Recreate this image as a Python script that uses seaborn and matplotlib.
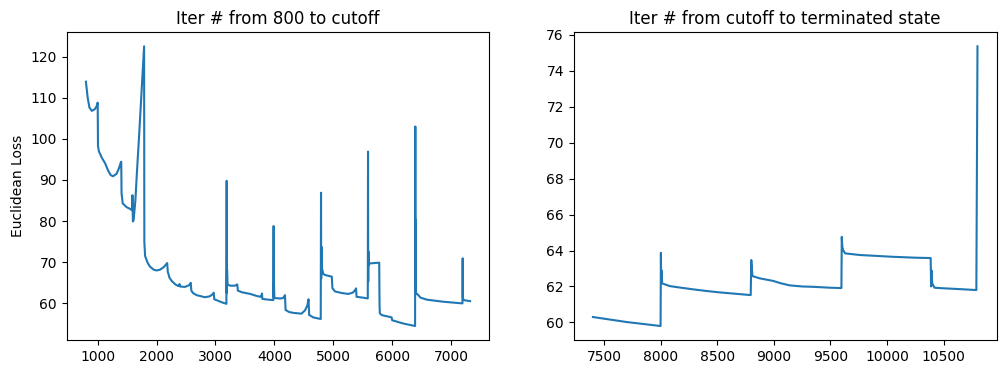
import matplotlib
matplotlib.use("Agg")
import matplotlib.pyplot as plt
import seaborn as sns

# ---- Left panel: Iter # from 800 to cutoff ----
iter_a = [800, 830, 860, 900, 950, 985, 1000, 1005, 1020, 1070, 1125, 1180, 1220, 1260,
          1320, 1360, 1395, 1400, 1405, 1425, 1490, 1560, 1585, 1590, 1598, 1610, 1640,
          1665, 1700, 1730, 1760, 1788, 1792, 1805, 1850, 1890, 1950, 2000, 2060, 2120,
          2180, 2190, 2220, 2260, 2320, 2370, 2390, 2400, 2480, 2550, 2580, 2590, 2620,
          2680, 2760, 2820, 2900, 2950, 2970, 2980, 3050, 3120, 3185, 3190, 3193, 3196,
          3205, 3250, 3330, 3370, 3380, 3450, 3590, 3700, 3770, 3790, 3795, 3900, 3982,
          3987, 3990, 3993, 4000, 4100, 4150, 4180, 4190, 4250, 4320, 4460, 4520, 4560,
          4580, 4590, 4660, 4787, 4792, 4795, 4798, 4802, 4830, 4860, 4975, 4985, 5030,
          5150, 5256, 5330, 5370, 5387, 5395, 5500, 5586, 5590, 5593, 5597, 5603, 5610,
          5780, 5785, 5790, 5823, 5964, 5990, 6000, 6190, 6389, 6393, 6396, 6399, 6405,
          6445, 6480, 6590, 6870, 7193, 7197, 7200, 7210, 7323]
loss_a = [113.9, 110.0, 107.6, 106.8, 107.2, 108.0, 108.8, 98.3, 97.0, 95.4, 94.1, 92.2,
          91.2, 90.9, 91.5, 92.8, 94.4, 94.4, 86.8, 84.3, 83.4, 82.9, 82.6, 86.3, 79.9,
          80.3, 85.0, 91.6, 100.0, 107.8, 115.5, 122.5, 75.0, 71.5, 69.8, 68.9, 68.2,
          68.0, 68.2, 68.8, 69.8, 67.7, 66.2, 65.4, 64.6, 64.2, 64.7, 64.1, 64.0, 64.4,
          65.0, 63.1, 62.5, 62.0, 61.7, 61.5, 61.7, 62.2, 62.6, 61.0, 60.6, 60.2, 59.9,
          89.8, 62.5, 68.5, 64.6, 64.3, 64.3, 64.6, 63.1, 62.7, 62.3, 61.8, 61.6, 62.4,
          61.1, 60.9, 60.8, 78.8, 61.5, 64.9, 61.3, 61.2, 61.3, 62.0, 58.4, 57.9, 57.7,
          57.5, 58.3, 59.5, 61.0, 57.2, 56.6, 56.2, 86.9, 66.0, 73.8, 68.9, 67.2, 66.9,
          66.5, 63.7, 62.9, 62.5, 62.3, 62.6, 63.2, 63.65, 61.6, 61.4, 61.2, 96.9, 65.3,
          72.6, 69.3, 69.7, 69.9, 60.0, 57.6, 57.15, 56.7, 56.6, 55.9, 55.1, 54.5, 103.0,
          62.5, 80.3, 62.5, 62.0, 61.4, 60.9, 60.4, 60.0, 70.95, 61.6, 60.8, 60.55]

# ---- Right panel: Iter # from cutoff to terminated state ----
iter_b = [7400, 7700, 7998, 8001, 8003, 8006, 8012, 8080, 8180, 8286, 8400, 8522, 8650,
          8795, 8800, 8810, 8875, 8993, 9060, 9140, 9250, 9346, 9500, 9597, 9600, 9605,
          9612, 9630, 9759, 10053, 10250, 10386, 10390, 10393, 10400, 10420, 10495,
          10650, 10790, 10800]
loss_b = [60.3, 60.02, 59.8, 63.87, 62.3, 62.9, 62.17, 62.02, 61.93, 61.84, 61.75, 61.67,
          61.6, 61.52, 63.47, 62.58, 62.45, 62.31, 62.18, 62.06, 62.0, 61.98, 61.93,
          61.91, 64.76, 64.2, 64.02, 63.84, 63.75, 63.65, 63.6, 63.58, 62.0, 62.9, 62.17,
          61.93, 61.9, 61.85, 61.80, 75.36]

titles = ["Iter # from 800 to cutoff", "Iter # from cutoff to terminated state"]
ylabel_left = "Euclidean Loss"

fig = plt.figure(figsize=(10.05, 3.74), dpi=100)
ax1 = fig.add_axes([0.06637, 0.09091, 0.42050, 0.82273])
ax2 = fig.add_axes([0.57085, 0.09091, 0.42090, 0.82273])

sns.lineplot(x=iter_a, y=loss_a, ax=ax1, estimator=None, sort=False, color="#1f77b4")
sns.lineplot(x=iter_b, y=loss_b, ax=ax2, estimator=None, sort=False, color="#1f77b4")

ax1.set_title(titles[0], fontsize=12)
ax2.set_title(titles[1], fontsize=12)
ax1.set_ylabel(ylabel_left)
ax1.set_xlabel("")
ax2.set_xlabel("")
ax2.set_ylabel("")

fig.savefig("out.png", dpi=100)
